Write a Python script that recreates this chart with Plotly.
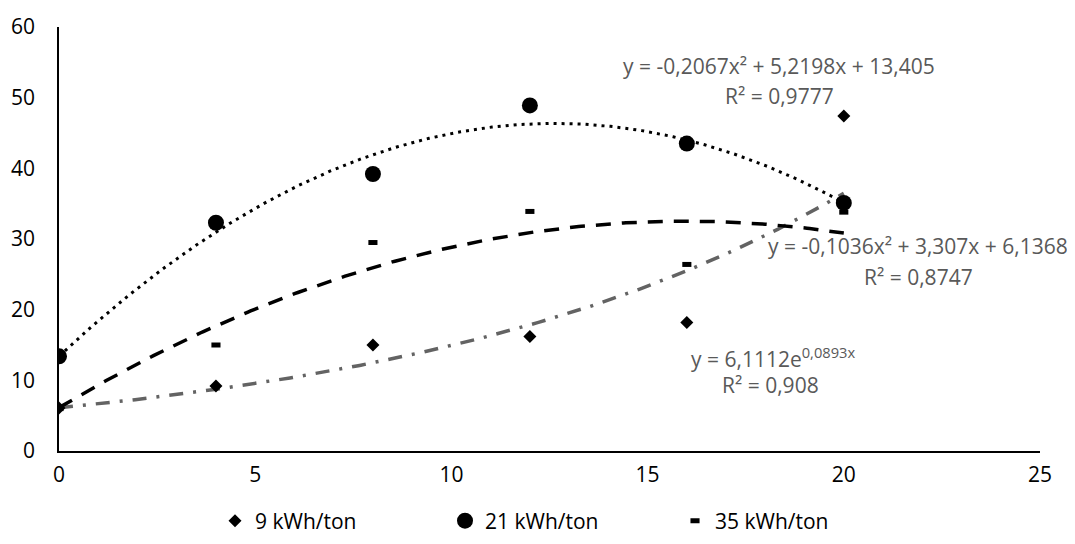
import numpy as np
import plotly.graph_objects as go

# ---- data ----
x_vals = [0, 4, 8, 12, 16, 20]
y_9kwh = [6.1, 9.2, 15.0, 16.2, 18.2, 47.4]
y_21kwh = [13.4, 32.3, 39.2, 48.9, 43.5, 35.1]
y_35kwh = [6.0, 15.0, 29.5, 33.9, 26.4, 33.8]
series_names = ["9 kWh/ton", "21 kWh/ton", "35 kWh/ton"]

# trendline coefficients (as printed on the chart)
exp_9 = [6.1112, 0.0893]                 # y = a*e^(b x)
poly_21 = [-0.2067, 5.2198, 13.405]      # y = a x^2 + b x + c
poly_35 = [-0.1036, 3.307, 6.1368]

eq_texts = [
    "y = -0,2067x² + 5,2198x + 13,405", "R² = 0,9777",
    "y = -0,1036x² + 3,307x + 6,1368", "R² = 0,8747",
    "y = 6,1112e<sup>0,0893x</sup>", "R² = 0,908",
]

x_ticks = [0, 5, 10, 15, 20, 25]
y_ticks = [0, 10, 20, 30, 40, 50, 60]

FONT = "'Open Sans', sans-serif"
GRAY = "#595959"
FS = 21

# plot area (page pixels) used to place the equation labels
PL, PR, PT, PB = 59, 1040, 27, 451

xt = np.linspace(0, 20, 300)
fig = go.Figure()

# trendlines
fig.add_trace(go.Scatter(x=xt, y=exp_9[0] * np.exp(exp_9[1] * xt), mode="lines",
                         line=dict(color="#636363", width=3.5, dash="14px,10px,3px,10px"),
                         showlegend=False, hoverinfo="skip"))
fig.add_trace(go.Scatter(x=xt, y=np.polyval(poly_35, xt), mode="lines",
                         line=dict(color="black", width=3.5, dash="15px,11px"),
                         showlegend=False, hoverinfo="skip"))
fig.add_trace(go.Scatter(x=xt, y=np.polyval(poly_21, xt), mode="lines",
                         line=dict(color="black", width=3, dash="3px,5px"),
                         showlegend=False, hoverinfo="skip"))

# data points
fig.add_trace(go.Scatter(x=x_vals, y=y_9kwh, mode="markers", name=series_names[0],
                         marker=dict(symbol="diamond", size=10, color="black")))
fig.add_trace(go.Scatter(x=x_vals, y=y_21kwh, mode="markers", name=series_names[1],
                         marker=dict(symbol="circle", size=16, color="black")))
fig.add_trace(go.Scatter(x=x_vals, y=y_35kwh, mode="markers", name=series_names[2],
                         marker=dict(symbol="line-ew", size=6.5, color="black",
                                     line=dict(color="black", width=5))))

ann_pos = [(779, 66), (779, 96), (918, 246), (918, 277), (773, 357), (770, 385)]
for txt, (px, py) in zip(eq_texts, ann_pos):
    fig.add_annotation(x=(px - PL) / (PR - PL), y=(PB - py) / (PB - PT),
                       xref="paper", yref="paper",
                       text=txt, showarrow=False, xanchor="center", yanchor="middle",
                       font=dict(family=FONT, size=FS, color=GRAY))

fig.update_layout(
    width=1075, height=544,
    margin=dict(l=51, r=43, t=19, b=101),
    paper_bgcolor="white", plot_bgcolor="white",
    font=dict(family=FONT, size=FS, color="black"),
    xaxis=dict(range=[0, 25], tickvals=x_ticks, showgrid=False, zeroline=False,
               showline=True, linecolor="black", linewidth=1.5, ticks="",
               automargin=False, tickfont=dict(size=FS, color="black"),
               ticklabelstandoff=4),
    yaxis=dict(range=[0, 60], tickvals=y_ticks, showgrid=False, zeroline=False,
               showline=True, linecolor="black", linewidth=1.5, ticks="",
               automargin=False, tickfont=dict(size=FS, color="black"),
               ticklabelstandoff=18),
    legend=dict(orientation="h", xref="container", yref="container",
                x=0.5135, xanchor="center", y=0.057, yanchor="middle",
                font=dict(size=FS, color="black"), itemwidth=30,
                entrywidth=185, entrywidthmode="pixels"),
)

fig.write_html("out.html")
